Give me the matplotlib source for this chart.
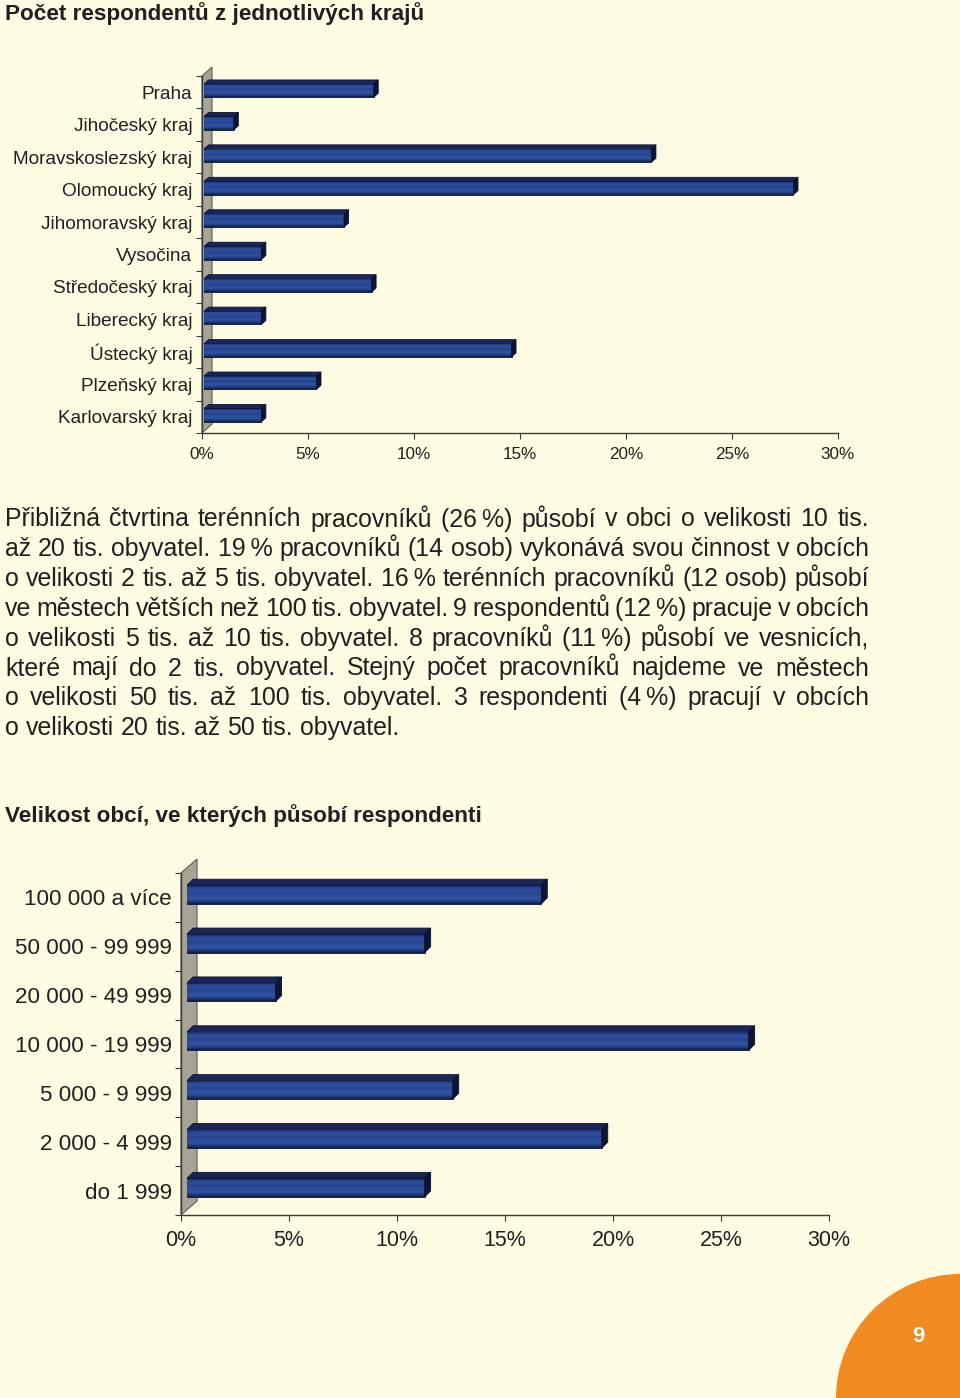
import numpy as np
import matplotlib
matplotlib.use('Agg')
import matplotlib.pyplot as plt
from matplotlib.patches import Polygon, Circle
from matplotlib.colors import LinearSegmentedColormap

W, H = 960, 1398
BG = '#FEFBE3'
INK = '#231F20'
plt.rcParams['font.family'] = ['Liberation Sans', 'DejaVu Sans']

# data
kraje = ['Praha', 'Jihočeský kraj', 'Moravskoslezský kraj', 'Olomoucký kraj',
         'Jihomoravský kraj', 'Vysočina', 'Středočeský kraj', 'Liberecký kraj',
         'Ústecký kraj', 'Plzeňský kraj', 'Karlovarský kraj']
kraje_pct = [8.0, 1.4, 21.1, 27.8, 6.6, 2.7, 7.9, 2.7, 14.5, 5.3, 2.7]

velikost = ['100 000 a více', '50 000 - 99 999', '20 000 - 49 999', '10 000 - 19 999',
            '5 000 - 9 999', '2 000 - 4 999', 'do 1 999']
velikost_pct = [16.4, 11.0, 4.1, 26.0, 12.3, 19.2, 11.0]

xticks = [0, 5, 10, 15, 20, 25, 30]
xticklabels = ['0%', '5%', '10%', '15%', '20%', '25%', '30%']

title1 = 'Počet respondentů z jednotlivých krajů'
title2 = 'Velikost obcí, ve kterých působí respondenti'
para = [
    'Přibližná čtvrtina terénních pracovníků (26\u2009%) působí v obci o velikosti 10 tis.',
    'až 20 tis. obyvatel. 19\u2009% pracovníků (14 osob) vykonává svou činnost v obcích',
    'o velikosti 2 tis. až 5 tis. obyvatel. 16\u2009% terénních pracovníků (12 osob) působí',
    've městech větších než 100 tis. obyvatel. 9 respondentů (12\u2009%) pracuje v obcích',
    'o velikosti 5 tis. až 10 tis. obyvatel. 8 pracovníků (11\u2009%) působí ve vesnicích,',
    'které mají do 2 tis. obyvatel. Stejný počet pracovníků najdeme ve městech',
    'o velikosti 50 tis. až 100 tis. obyvatel. 3 respondenti (4\u2009%) pracují v obcích',
    'o velikosti 20 tis. až 50 tis. obyvatel.',
]

fig = plt.figure(figsize=(9.6, 13.98), dpi=100, facecolor=BG)
bg = fig.add_axes([0, 0, 1, 1], zorder=0)
bg.set_xlim(0, W)
bg.set_ylim(H, 0)
bg.axis('off')

front_cmap = LinearSegmentedColormap.from_list(
    'bar', ['#16245A', '#2A4894', '#2F509F', '#27448C', '#2D4D9A', '#3053A3', '#22407F', '#101C44'])


def px_axes(left, top, right, bottom):
    return fig.add_axes([left / W, 1 - bottom / H, (right - left) / W, (bottom - top) / H], zorder=1)


def bar_chart(ax, labels, vals, px_x, px_y, bar_h, lift, x0, depth, wall, fs_lab, fs_tick, lab_pad, tick_pad):
    n = len(labels)
    ys = np.arange(n)[::-1]
    dx, dy = depth[0] / px_x, depth[1] / px_y
    # back wall
    wx, wy = wall[0] / px_x, wall[1] / px_y
    ax.add_patch(Polygon([(0, -0.5), (wx, -0.5 + wy), (wx, n - 0.5 + wy), (0, n - 0.5)],
                         closed=True, facecolor='#A6A497', edgecolor='#5E5C55', lw=0.8,
                         clip_on=False, zorder=1))
    bars = ax.barh(ys + lift, vals, left=x0, height=bar_h, color='#2A4894',
                   edgecolor='#0B1230', linewidth=0.6, zorder=3)
    for r in bars:
        x, y, w, h = r.get_x(), r.get_y(), r.get_width(), r.get_height()
        im = ax.imshow(np.linspace(0, 1, 64)[:, None], cmap=front_cmap, aspect='auto',
                       extent=[x, x + w, y, y + h], origin='upper', zorder=3,
                       interpolation='bilinear')
        im.set_clip_path(r)
        ax.add_patch(Polygon([(x, y + h), (x + dx, y + h + dy), (x + w + dx, y + h + dy), (x + w, y + h)],
                             closed=True, facecolor='#1B2658', edgecolor='#0B1230', lw=0.6,
                             clip_on=False, zorder=4))
        ax.add_patch(Polygon([(x + w, y), (x + w + dx, y + dy), (x + w + dx, y + h + dy), (x + w, y + h)],
                             closed=True, facecolor='#0D1434', edgecolor='#0B1230', lw=0.6,
                             clip_on=False, zorder=4))
    ax.set_xlim(0, 30)
    ax.set_ylim(-0.5, n - 0.5)
    ax.set_facecolor('none')
    for s in ['top', 'right']:
        ax.spines[s].set_visible(False)
    for s in ['left', 'bottom']:
        ax.spines[s].set_color('#3A3A3A')
        ax.spines[s].set_linewidth(1.0)
    ax.set_yticks(ys, labels)
    ax.set_yticks(np.arange(n + 1) - 0.5, minor=True)
    ax.tick_params(axis='y', which='major', length=0, pad=lab_pad, labelsize=fs_lab, labelcolor=INK)
    ax.tick_params(axis='y', which='minor', length=4.5, width=0.8, color='#3A3A3A')
    ax.set_xticks(xticks, xticklabels)
    ax.tick_params(axis='x', length=4.5, width=0.8, color='#3A3A3A', pad=tick_pad,
                   labelsize=fs_tick, labelcolor=INK)


ax1 = px_axes(202, 76, 838, 433)
bar_chart(ax1, kraje, kraje_pct, 636 / 30, 357 / 11, 0.41, 0.05, 0.1,
          (4.5, 4), (10, 9), 13.7, 12.3, 7, 5.8)

ax2 = px_axes(181, 873, 829, 1215)
bar_chart(ax2, velikost, velikost_pct, 648 / 30, 342 / 7, 0.38, 0.06, 0.28,
          (6, 6), (16, 14), 16.1, 15.5, 6.5, 6.5)

# titles
bg.text(5, 20, title1, fontsize=16.2, fontweight='bold', color=INK, va='baseline', ha='left')
bg.text(5, 822, title2, fontsize=16.2, fontweight='bold', color=INK, va='baseline', ha='left')

# justified paragraph (widths measured as advances: w(word + 'x') - w('x'))
renderer = fig.canvas.get_renderer()
FS = 17.9


def adv(s):
    t = bg.text(0, 0, s + 'x', fontsize=FS)
    t2 = bg.text(0, 0, 'x', fontsize=FS)
    w = t.get_window_extent(renderer).width - t2.get_window_extent(renderer).width
    t.remove()
    t2.remove()
    return w


left, right = 5, 869
space_w = adv('x x') - adv('xx')
for i, line in enumerate(para):
    yb = 526.5 + 29.8 * i
    words = line.split(' ')
    widths = [adv(w) for w in words]
    if i == len(para) - 1:
        gap = space_w
    else:
        gap = (right - left - sum(widths)) / (len(words) - 1)
    x = left
    for w, wd in zip(words, widths):
        bg.text(x, yb, w, fontsize=FS, color=INK, va='baseline', ha='left')
        x += wd + gap

# page number corner
bg.add_patch(Circle((W, H), 124, facecolor='#F28A22', edgecolor='none'))
bg.text(918, 1337, '9', fontsize=16, fontweight='bold', color='white', ha='center', va='center')

fig.savefig('out.png', dpi=100, facecolor=BG)
